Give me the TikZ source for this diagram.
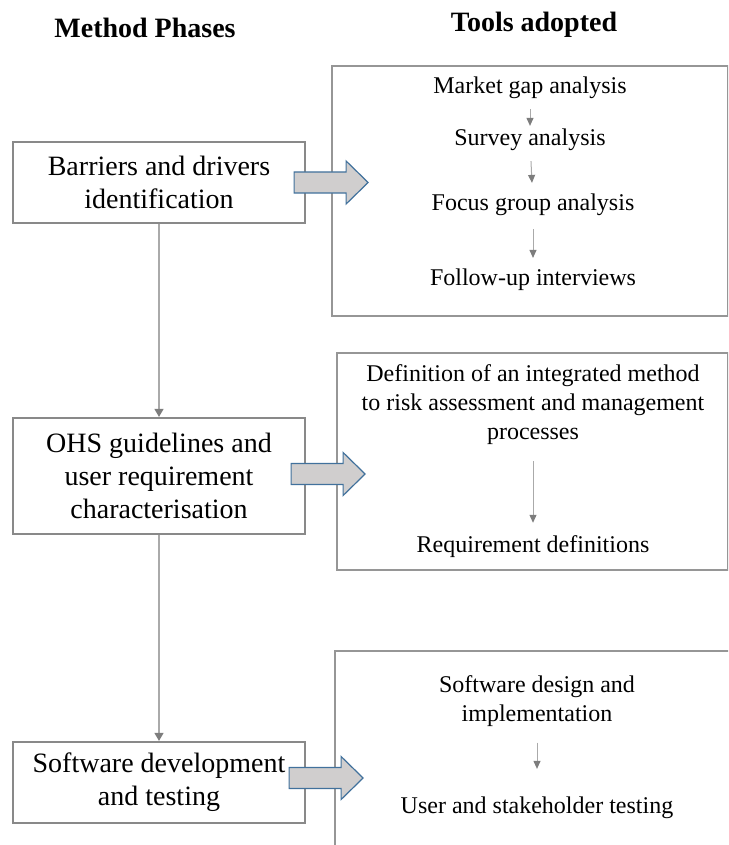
\documentclass[tikz,border=0pt]{standalone}
\usepackage{fontspec}
\setmainfont{Liberation Serif}
\usetikzlibrary{arrows.meta}

\definecolor{boxgray}{RGB}{137,137,137}
\definecolor{toolgray}{RGB}{150,150,150}
\definecolor{linegray}{RGB}{170,170,170}
\definecolor{tipgray}{RGB}{125,125,125}
\definecolor{arrowfill}{RGB}{208,206,206}
\definecolor{arrowblue}{RGB}{65,113,156}

\tikzset{
  head/.style={font=\fontsize{28}{33}\selectfont\bfseries},
  phase/.style={draw=boxgray,line width=2.2pt,minimum width=292pt,inner sep=0pt,align=center,font=\fontsize{28}{33}\selectfont},
  tools/.style={draw=toolgray,line width=1.5pt,inner sep=0pt},
  tooltext/.style={align=center,inner sep=2pt,font=\fontsize{24}{29}\selectfont},
  flow/.style={draw=linegray,line width=1.3pt,-{Triangle[width=9pt,length=8pt,color=tipgray]}},
  toolstep/.style={draw=linegray,line width=1pt,-{Triangle[width=7pt,length=8pt,color=tipgray]}},
  phasearrow/.pic={
    \draw[draw=arrowblue,fill=arrowfill,line width=1.2pt] (0,-10.5) -- (52,-10.5) -- (52,-21.5) -- (74,0) -- (52,21.5) -- (52,10.5) -- (0,10.5) -- cycle;
  }
}

\begin{document}
\begin{tikzpicture}[x=1pt,y=-1pt]
\useasboundingbox (0,0) rectangle (728,845);
\clip (0,0) rectangle (728,845);

% headings
\node[head] (methodhead) at (145,28) {Method Phases};
\node[head] (toolhead) at (534,25) {Tools adopted};

% tool boxes (right)
\node[tools,minimum width=396pt,minimum height=250pt] (toolsA) at (530,191) {};
\node[tools,minimum width=391pt,minimum height=217pt] (toolsB) at (532.5,461.5) {};
\node[tools,minimum width=415pt,minimum height=219pt] (toolsC) at (542.5,760.5) {};

\node[tooltext] (gap) at (530,88) {Market gap analysis};
\node[tooltext] (survey) at (530,140) {Survey analysis};
\node[tooltext] (focus) at (533,205) {Focus group analysis};
\node[tooltext] (followup) at (533,280) {Follow-up interviews};
\draw[toolstep,shorten <=8pt,shorten >=1pt] (gap) -- (survey);
\draw[toolstep,shorten <=8pt,shorten >=9pt] (survey) -- (focus);
\draw[toolstep,shorten <=11pt,shorten >=9pt] (focus) -- (followup);

\node[tooltext] (integrated) at (533,405) {Definition of an integrated method\\to risk assessment and management\\processes};
\node[tooltext] (reqdef) at (533,547) {Requirement definitions};
\draw[toolstep,shorten <=14pt,shorten >=11pt] (integrated) -- (reqdef);

\node[tooltext] (design) at (537,701) {Software design and\\implementation};
\node[tooltext] (testing) at (537,808) {User and stakeholder testing};
\draw[toolstep,shorten <=14pt,shorten >=26pt] (design) -- (testing);

% method phases (left)
\node[phase,minimum height=81pt] (phaseA) at (159,182.5) {Barriers and drivers\\identification};
\node[phase,minimum height=116pt] (phaseB) at (159,476) {OHS guidelines and\\user requirement\\characterisation};
\node[phase,minimum height=81pt] (phaseC) at (159,782.5) {Software development\\and testing};

\draw[flow] (phaseA) -- (phaseB);
\draw[flow] (phaseB) -- (phaseC);

% block arrows
\pic at ([xshift=-12pt]phaseA.east) {phasearrow};
\pic at ([xshift=-15pt,yshift=2pt]phaseB.east) {phasearrow};
\pic at ([xshift=-17pt,yshift=4.5pt]phaseC.east) {phasearrow};
\end{tikzpicture}
\end{document}
